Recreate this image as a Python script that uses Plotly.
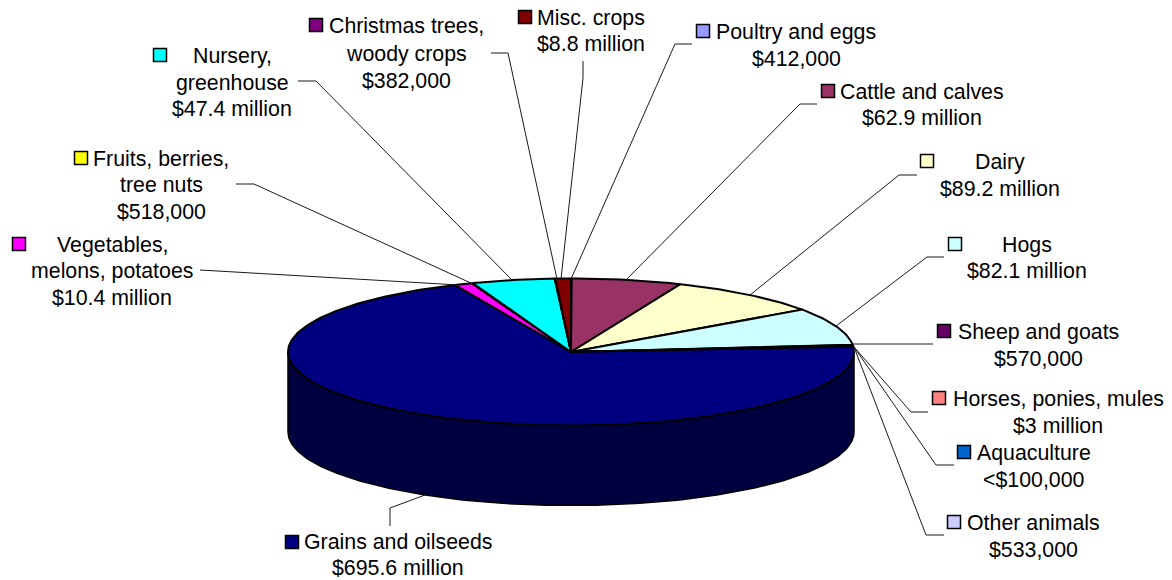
import numpy as np
import plotly.graph_objects as go

# Farm sales by commodity, clockwise from twelve o'clock (million dollars)
categories = ["Poultry and eggs", "Cattle and calves", "Dairy", "Hogs", "Sheep and goats",
              "Horses, ponies, mules", "Aquaculture", "Other animals", "Grains and oilseeds",
              "Vegetables, melons, potatoes", "Fruits, berries, tree nuts", "Nursery, greenhouse",
              "Christmas trees, woody crops", "Misc. crops"]
sales = [0.412, 62.9, 89.2, 82.1, 0.57, 3.0, 0.1, 0.533, 695.6, 10.4, 0.518, 47.4, 0.382, 8.8]
label_lines = [
    ["Poultry and eggs", "$412,000"],
    ["Cattle and calves", "$62.9 million"],
    ["Dairy", "$89.2 million"],
    ["Hogs", "$82.1 million"],
    ["Sheep and goats", "$570,000"],
    ["Horses, ponies, mules", "$3 million"],
    ["Aquaculture", "<$100,000"],
    ["Other animals", "$533,000"],
    ["Grains and oilseeds", "$695.6 million"],
    ["Vegetables,", "melons, potatoes", "$10.4 million"],
    ["Fruits, berries,", "tree nuts", "$518,000"],
    ["Nursery,", "greenhouse", "$47.4 million"],
    ["Christmas trees,", "woody crops", "$382,000"],
    ["Misc. crops", "$8.8 million"],
]
colors = ["#9999FF", "#993366", "#FFFFCC", "#CCFFFF", "#660066", "#FF8080", "#0066CC", "#CCCCFF",
          "#000080", "#FF00FF", "#FFFF00", "#00FFFF", "#800080", "#800000"]
WALL_COLOR = "#000040"

# Canvas placement of the tilted disc
CX, CY, RX, RY, DEPTH = 571, 352, 283, 73.5, 80

# Text column centre and line centres, legend key, and leader path for each category
label_x = [796, 922, 1000, 1027, 1038, 1058, 1034, 1033, 398, 112, 161, 232, 406, 591]
label_y = [[32, 59], [92, 118], [162, 189], [245, 271], [332, 359], [399, 426], [453, 480],
           [523, 550], [542, 568], [245, 271, 298], [159, 185, 212], [56, 83, 109],
           [26, 54, 81], [18, 44]]
key_xy = [(703, 31), (828, 91), (927, 161), (955, 244), (944, 331), (939, 398), (964, 452),
          (954, 522), (292, 542), (19, 244), (81, 158), (160, 55), (316, 25), (525, 17)]
leaders = [
    [(692, 44), (675, 44), (571, 279)],
    [(817, 104), (800, 104), (625, 281)],
    [(917, 175), (899, 175), (750, 295)],
    [(944, 257), (927, 257), (836, 326)],
    [(933, 344), (853, 344)],
    [(928, 412), (911, 412), (854, 347)],
    [(954, 465), (936, 465), (854, 347)],
    [(944, 535), (926, 535), (854, 347)],
    [(390, 526), (390, 508), (425, 495)],
    [(200, 270), (459, 285)],
    [(236, 184), (254, 184), (473, 284)],
    [(298, 81), (316, 81), (512, 280)],
    [(491, 53), (508, 53), (557, 279)],
    [(583, 61), (583, 78), (561, 279)],
]


def rim(angle_deg, drop=0.0):
    a = np.radians(angle_deg)
    return CX + RX * np.sin(a), CY - RY * np.cos(a) + drop


fig = go.Figure()

# Side wall: front half of the disc, extruded downward
arc = np.linspace(90, 270, 181)
top_x, top_y = rim(arc)
low_x, low_y = rim(arc[::-1], DEPTH)
fig.add_trace(go.Scatter(x=np.r_[top_x, low_x, top_x[0]], y=np.r_[top_y, low_y, top_y[0]],
                         mode="lines", fill="toself", fillcolor=WALL_COLOR,
                         line=dict(color="black", width=1.5), hoverinfo="skip"))

# Top face wedges, angles proportional to the sales values
edges = np.r_[0, np.cumsum(sales)] / np.sum(sales) * 360
for name, start, stop, color in zip(categories, edges[:-1], edges[1:], colors):
    a = np.linspace(start, stop, max(2, int(stop - start) + 2))
    x, y = rim(a)
    fig.add_trace(go.Scatter(x=np.r_[CX, x, CX], y=np.r_[CY, y, CY], mode="lines", name=name,
                             fill="toself", fillcolor=color,
                             line=dict(color="black", width=2), hoverinfo="skip"))

# Leader lines from the rim to each label
for path in leaders:
    fig.add_trace(go.Scatter(x=[p[0] for p in path], y=[p[1] for p in path], mode="lines",
                             line=dict(color="#1a1a1a", width=1), hoverinfo="skip"))

# Legend keys beside the labels
fig.add_trace(go.Scatter(x=[k[0] for k in key_xy], y=[k[1] for k in key_xy], mode="markers",
                         marker=dict(symbol="square", size=13, color=colors,
                                     line=dict(color="black", width=1.5)),
                         hoverinfo="skip"))

annotations = []
for lines, xc, ys in zip(label_lines, label_x, label_y):
    for line, yc in zip(lines, ys):
        annotations.append(dict(x=xc, y=yc, text=line.replace("<", "&lt;"), showarrow=False,
                                xanchor="center", yanchor="middle",
                                font=dict(family="Liberation Sans", size=21.33, color="black")))

fig.update_layout(
    width=1172, height=580, margin=dict(l=0, r=0, t=0, b=0),
    paper_bgcolor="white", plot_bgcolor="white", showlegend=False,
    xaxis=dict(range=[0, 1172], visible=False, fixedrange=True),
    yaxis=dict(range=[580, 0], visible=False, fixedrange=True),
    annotations=annotations,
)

fig.write_html("out.html", config={"displayModeBar": False})
